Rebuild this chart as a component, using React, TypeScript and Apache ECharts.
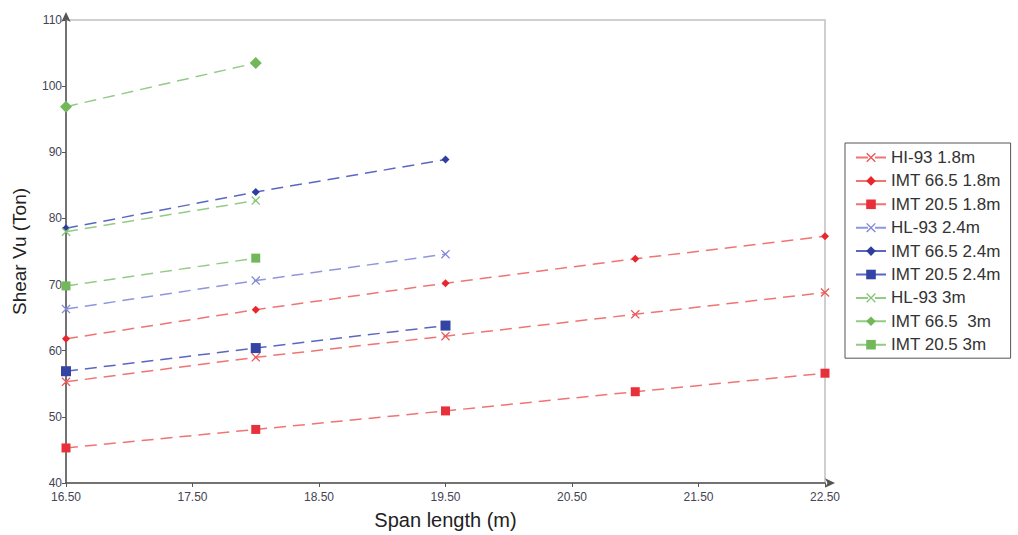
import React, { useEffect, useRef } from "react";
import * as echarts from "echarts";

const spans = [16.5, 18.0, 19.5, 21.0, 22.5];

const hl93_18 = [55.3, 59.0, 62.2, 65.5, 68.8];
const imt665_18 = [61.8, 66.2, 70.2, 73.9, 77.3];
const imt205_18 = [45.3, 48.1, 50.9, 53.8, 56.6];
const hl93_24 = [66.3, 70.6, 74.6];
const imt665_24 = [78.5, 84.0, 88.9];
const imt205_24 = [56.9, 60.4, 63.8];
const hl93_3 = [78.0, 82.7];
const imt665_3 = [96.9, 103.5];
const imt205_3 = [69.8, 74.0];

const seriesNames = [
  "HI-93 1.8m",
  "IMT 66.5 1.8m",
  "IMT 20.5 1.8m",
  "HL-93 2.4m",
  "IMT 66.5 2.4m",
  "IMT 20.5 2.4m",
  "HL-93 3m",
  "IMT 66.5  3m",
  "IMT 20.5 3m",
];
const seriesValues = [hl93_18, imt665_18, imt205_18, hl93_24, imt665_24, imt205_24, hl93_3, imt665_3, imt205_3];

const CROSS = "path://M0,1 L1,0 L5,4 L9,0 L10,1 L6,5 L10,9 L9,10 L5,6 L1,10 L0,9 L4,5 Z";

const styles = [
  { line: "#f07474", mark: "#ee5555", symbol: CROSS, size: 9 },
  { line: "#f07474", mark: "#e8262c", symbol: "diamond", size: 8 },
  { line: "#f07474", mark: "#e8303a", symbol: "rect", size: 9 },
  { line: "#8e96dc", mark: "#7f88d6", symbol: CROSS, size: 9 },
  { line: "#5b66c2", mark: "#2e3d9e", symbol: "diamond", size: 8 },
  { line: "#5b66c2", mark: "#3344a4", symbol: "rect", size: 10 },
  { line: "#92cc84", mark: "#84c474", symbol: CROSS, size: 9 },
  { line: "#92cc84", mark: "#72b85a", symbol: "diamond", size: 12 },
  { line: "#92cc84", mark: "#72b85a", symbol: "rect", size: 9 },
];

export default function App() {
  const ref = useRef<HTMLDivElement>(null);
  useEffect(() => {
    if (!ref.current) return;
    const chart = echarts.init(ref.current, undefined, { renderer: "svg" });
    const font = "Arial, 'Liberation Sans', sans-serif";
    chart.setOption({
      animation: false,
      backgroundColor: "#ffffff",
      textStyle: { fontFamily: font },
      grid: {
        left: 66,
        right: 193,
        top: 20,
        bottom: 52,
        show: true,
        borderColor: "#cfcfcf",
        borderWidth: 2,
        containLabel: false,
      },
      legend: {
        orient: "vertical",
        left: 845,
        top: 143,
        padding: [6, 10, 5, 10],
        itemGap: 6.4,
        itemWidth: 30,
        itemHeight: 12,
        borderColor: "#555555",
        borderWidth: 1,
        textStyle: { fontSize: 17, color: "#333333", fontFamily: font },
        data: seriesNames,
      },
      xAxis: {
        type: "value",
        min: 16.5,
        max: 22.5,
        interval: 1,
        name: "Span length (m)",
        nameLocation: "middle",
        nameGap: 27,
        nameTextStyle: { fontSize: 20, color: "#222222" },
        axisLine: {
          show: true,
          lineStyle: { color: "#555555", width: 1.5 },
          symbol: ["none", "arrow"],
          symbolSize: [7, 10],
          symbolOffset: [0, 10],
        },
        axisTick: { show: true, length: 4, lineStyle: { color: "#555555" } },
        axisLabel: {
          fontSize: 12,
          color: "#444455",
          margin: 8,
          formatter: (v: number) => v.toFixed(2),
        },
        splitLine: { show: false },
      },
      yAxis: {
        type: "value",
        min: 40,
        max: 110,
        interval: 10,
        name: "Shear Vu (Ton)",
        nameLocation: "middle",
        nameGap: 37,
        nameTextStyle: { fontSize: 19, color: "#222222" },
        axisLine: {
          show: true,
          lineStyle: { color: "#555555", width: 1.5 },
          symbol: ["none", "arrow"],
          symbolSize: [7, 10],
          symbolOffset: [0, 8],
        },
        axisTick: { show: true, length: 4, lineStyle: { color: "#555555" } },
        axisLabel: { fontSize: 12, color: "#444455", margin: 4 },
        splitLine: { show: false },
      },
      series: seriesNames.map((name, i) => ({
        name,
        type: "line",
        data: seriesValues[i].map((v, j) => [spans[j], v]),
        symbol: styles[i].symbol,
        symbolSize: styles[i].size,
        showAllSymbol: true,
        clip: false,
        lineStyle: { color: styles[i].line, width: 1.5, type: [12, 7] },
        itemStyle: { color: styles[i].mark },
      })),
    });
    return () => chart.dispose();
  }, []);
  return (
    <div
      ref={ref}
      style={{ position: "fixed", left: 0, top: 0, width: 1018, height: 535 }}
    />
  );
}
